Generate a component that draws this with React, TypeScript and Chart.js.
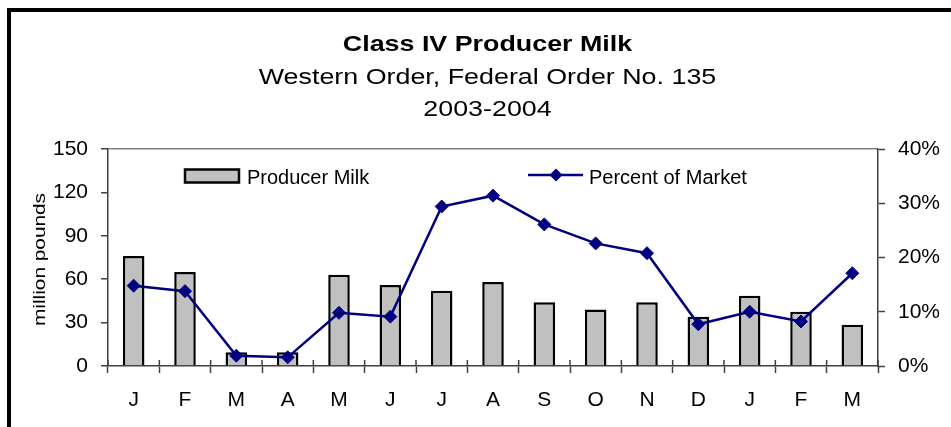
import React, { useEffect, useRef } from "react";
import { Chart, registerables } from "chart.js";

Chart.register(...registerables);

const titleText = "Class IV Producer Milk";
const subtitleLines = ["Western Order, Federal Order No. 135", "2003-2004"];
const yAxisTitle = "million pounds";

const months = ["J", "F", "M", "A", "M", "J", "J", "A", "S", "O", "N", "D", "J", "F", "M"];
const producerMilk = [76, 65, 9.5, 9.5, 63, 56, 52, 58, 44, 39, 44, 34, 48.5, 37.5, 28.5];
const percentOfMarket = [14.8, 13.8, 1.9, 1.6, 9.8, 9.1, 29.4, 31.4, 26.1, 22.6, 20.8, 7.7, 10.0, 8.2, 17.1];

const leftMax = 150;
const leftStep = 30;
const rightMax = 40;
const rightStep = 10;

const FONT = "'Liberation Sans', Arial, Helvetica, sans-serif";
const AXIS_COLOR = "#404040";
const NAVY = "#000080";

const decorPlugin = {
  id: "decor",
  afterDraw(chart: any) {
    const ctx = chart.ctx as CanvasRenderingContext2D;
    const area = chart.chartArea;
    const xScale = chart.scales.x;
    ctx.save();

    // outer frame
    ctx.fillStyle = "#000";
    ctx.fillRect(7, 8, chart.width, 4);
    ctx.fillRect(7, 8, 4, chart.height);

    // titles (horizontally stretched like the original rendering)
    const cx = 487.5;
    ctx.fillStyle = "#000";
    ctx.textAlign = "center";
    ctx.textBaseline = "alphabetic";
    ctx.save();
    ctx.translate(cx, 51);
    ctx.scale(1.22, 1);
    ctx.font = `bold 22px ${FONT}`;
    ctx.fillText(titleText, 0, 0);
    ctx.restore();
    subtitleLines.forEach((line, i) => {
      ctx.save();
      ctx.translate(cx, 84 + i * 32);
      ctx.scale(1.22, 1);
      ctx.font = `22px ${FONT}`;
      ctx.fillText(line, 0, 0);
      ctx.restore();
    });

    // y-axis title
    ctx.save();
    ctx.translate(44.5, (area.top + area.bottom) / 2 + 2);
    ctx.rotate(-Math.PI / 2);
    ctx.scale(1.3, 1);
    ctx.font = `16px ${FONT}`;
    ctx.fillText(yAxisTitle, 0, 0);
    ctx.restore();

    // inner half of category tick marks
    ctx.strokeStyle = AXIS_COLOR;
    ctx.lineWidth = 1.5;
    const n = chart.data.labels.length;
    for (let i = 0; i <= n; i++) {
      let x;
      if (i === 0) x = area.left;
      else if (i === n) x = area.right;
      else x = (xScale.getPixelForValue(i - 1) + xScale.getPixelForValue(i)) / 2;
      ctx.beginPath();
      ctx.moveTo(x, area.bottom - 6);
      ctx.lineTo(x, area.bottom);
      ctx.stroke();
    }

    // legend
    const barDs = chart.data.datasets[0];
    const lineDs = chart.data.datasets[1];
    ctx.textAlign = "left";
    ctx.font = `20px ${FONT}`;
    const ly = 176;
    ctx.fillStyle = barDs.backgroundColor;
    ctx.fillRect(185, ly - 6.5, 54, 13);
    ctx.strokeStyle = barDs.borderColor;
    ctx.lineWidth = 2.5;
    ctx.strokeRect(185, ly - 6.5, 54, 13);
    ctx.fillStyle = "#000";
    ctx.fillText(barDs.label, 247, ly + 8);

    ctx.strokeStyle = lineDs.borderColor;
    ctx.lineWidth = 2.5;
    ctx.beginPath();
    ctx.moveTo(528, ly - 1);
    ctx.lineTo(583, ly - 1);
    ctx.stroke();
    ctx.fillStyle = lineDs.backgroundColor;
    ctx.beginPath();
    ctx.moveTo(556 - 6.5, ly - 1);
    ctx.lineTo(556, ly - 7.5);
    ctx.lineTo(556 + 6.5, ly - 1);
    ctx.lineTo(556, ly + 5.5);
    ctx.closePath();
    ctx.fill();
    ctx.fillStyle = "#000";
    ctx.fillText(lineDs.label, 589, ly + 8);

    ctx.restore();
  },
};

export default function App() {
  const canvasRef = useRef<HTMLCanvasElement | null>(null);

  useEffect(() => {
    if (!canvasRef.current) return;
    const chart = new Chart(canvasRef.current, {
      type: "bar",
      data: {
        labels: months,
        datasets: [
          {
            type: "bar",
            label: "Producer Milk",
            data: producerMilk,
            backgroundColor: "#C0C0C0",
            borderColor: "#000000",
            borderWidth: 2.5,
            categoryPercentage: 1,
            barPercentage: 0.42,
            yAxisID: "y",
            order: 1,
          },
          {
            type: "line",
            label: "Percent of Market",
            data: percentOfMarket,
            borderColor: NAVY,
            backgroundColor: NAVY,
            borderWidth: 2.5,
            pointStyle: "rectRot",
            pointRadius: 6.5,
            pointBorderWidth: 1,
            pointBackgroundColor: NAVY,
            pointBorderColor: NAVY,
            tension: 0,
            yAxisID: "y1",
            order: 0,
          },
        ],
      } as any,
      options: {
        animation: false,
        responsive: true,
        maintainAspectRatio: false,
        layout: { padding: { top: 149, left: 0, right: 0, bottom: 0 } },
        plugins: {
          legend: { display: false },
          title: { display: false },
          tooltip: { enabled: false },
        },
        scales: {
          x: {
            type: "category",
            offset: true,
            grid: {
              offset: true,
              drawOnChartArea: false,
              drawTicks: true,
              tickLength: 7,
              tickColor: AXIS_COLOR,
              tickWidth: 1.5,
            },
            border: { display: true, color: AXIS_COLOR, width: 1.5 },
            ticks: {
              color: "#000",
              font: { family: FONT, size: 21 },
              padding: 15,
              maxRotation: 0,
              autoSkip: false,
            },
            afterFit(scale: any) {
              scale.height = 61;
            },
          },
          y: {
            type: "linear",
            position: "left",
            min: 0,
            max: leftMax,
            ticks: {
              stepSize: leftStep,
              color: "#000",
              font: { family: FONT, size: 21 },
              padding: 13,
            },
            grid: {
              color: (c: any) => (c.tick && c.tick.value === leftMax ? "#808080" : "rgba(0,0,0,0)"),
              lineWidth: 1.5,
              tickColor: AXIS_COLOR,
              tickWidth: 1.5,
              tickLength: 7,
              drawTicks: true,
            },
            border: { display: true, color: AXIS_COLOR, width: 1.5 },
            afterFit(scale: any) {
              scale.width = 108;
            },
          },
          y1: {
            type: "linear",
            position: "right",
            min: 0,
            max: rightMax,
            ticks: {
              stepSize: rightStep,
              color: "#000",
              font: { family: FONT, size: 21 },
              padding: 13,
              callback: (v: any) => `${v}%`,
            },
            grid: {
              drawOnChartArea: false,
              tickColor: AXIS_COLOR,
              tickWidth: 1.5,
              tickLength: 7,
              drawTicks: true,
            },
            border: { display: true, color: AXIS_COLOR, width: 1.5 },
            afterFit(scale: any) {
              scale.width = 73;
            },
          },
        },
      } as any,
      plugins: [decorPlugin],
    });
    return () => chart.destroy();
  }, []);

  return (
    <div style={{ position: "absolute", left: 0, top: 0, width: 951, height: 427, background: "#fff" }}>
      <canvas ref={canvasRef} />
    </div>
  );
}
